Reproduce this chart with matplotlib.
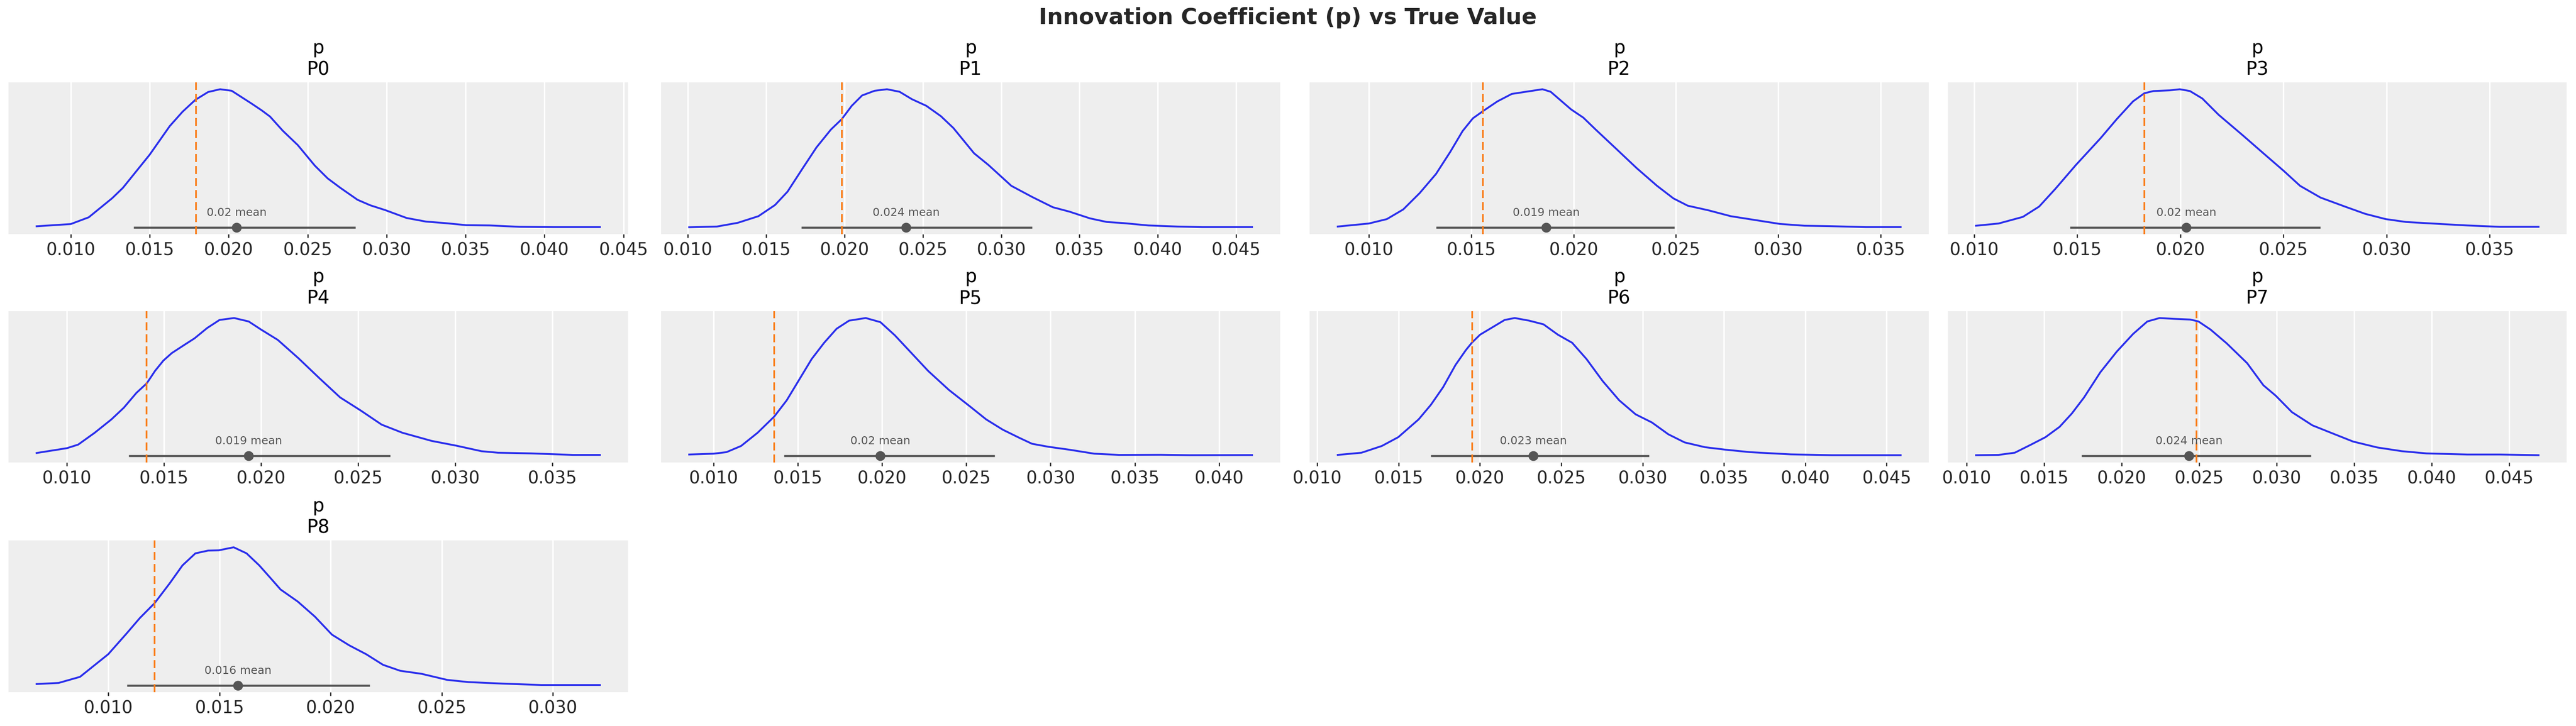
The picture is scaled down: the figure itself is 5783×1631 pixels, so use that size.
import matplotlib
matplotlib.use("Agg")
import matplotlib.pyplot as plt

# ---------------- data ----------------
panel_names = ["P0", "P1", "P2", "P3", "P4", "P5", "P6", "P7", "P8"]
var_name = "p"

kde_x_P0 = [0.00784, 0.0100, 0.01114, 0.01262, 0.0133, 0.0150, 0.01627, 0.01708, 0.01789, 0.0187, 0.01946, 0.02019, 0.0214, 0.02208, 0.02262, 0.02343, 0.02438, 0.02546, 0.02627, 0.02708, 0.02816, 0.02897, 0.02992, 0.03127, 0.03249, 0.0337, 0.03505, 0.03654, 0.03843, 0.04059, 0.04351]
kde_y_P0 = [0.007, 0.023, 0.072, 0.21, 0.285, 0.526, 0.733, 0.837, 0.923, 0.98, 1.0, 0.989, 0.90, 0.848, 0.802, 0.699, 0.595, 0.446, 0.354, 0.285, 0.199, 0.159, 0.124, 0.067, 0.041, 0.030, 0.015, 0.013, 0.003, 0.001, 0.001]

kde_x_P1 = [0.01008, 0.01185, 0.01318, 0.0145, 0.01556, 0.01636, 0.01728, 0.01821, 0.01913, 0.01982, 0.02046, 0.02112, 0.02192, 0.02271, 0.02351, 0.0243, 0.02522, 0.02615, 0.02695, 0.02827, 0.02919, 0.03065, 0.03197, 0.0333, 0.03436, 0.03568, 0.03675, 0.0378, 0.0394, 0.04125, 0.04284, 0.04602]
kde_y_P1 = [0.0, 0.005, 0.032, 0.08, 0.161, 0.258, 0.419, 0.579, 0.708, 0.783, 0.88, 0.955, 0.989, 1.0, 0.982, 0.928, 0.88, 0.805, 0.719, 0.536, 0.451, 0.30, 0.22, 0.145, 0.113, 0.064, 0.038, 0.030, 0.013, 0.005, 0.001, 0.001]

kde_x_P2 = [0.00848, 0.0100, 0.01088, 0.01168, 0.01248, 0.01328, 0.01398, 0.01458, 0.01508, 0.01558, 0.01628, 0.01698, 0.01768, 0.01848, 0.01888, 0.01938, 0.01988, 0.02048, 0.02108, 0.02208, 0.02308, 0.02408, 0.02488, 0.02558, 0.02658, 0.02768, 0.02888, 0.03008, 0.03128, 0.03248, 0.03428, 0.03598]
kde_y_P2 = [0.005, 0.027, 0.059, 0.129, 0.247, 0.386, 0.547, 0.697, 0.789, 0.842, 0.912, 0.966, 0.982, 1.0, 0.982, 0.918, 0.854, 0.794, 0.708, 0.569, 0.429, 0.30, 0.209, 0.156, 0.123, 0.080, 0.052, 0.024, 0.011, 0.008, 0.001, 0.001]

kde_x_P3 = [0.0101, 0.01119, 0.01237, 0.01316, 0.01395, 0.01494, 0.01613, 0.01692, 0.01771, 0.01826, 0.0187, 0.01949, 0.01998, 0.02047, 0.02107, 0.02186, 0.02304, 0.02403, 0.02502, 0.02581, 0.0268, 0.02798, 0.02897, 0.02996, 0.03095, 0.03292, 0.03391, 0.03549, 0.03737]
kde_y_P3 = [0.011, 0.027, 0.075, 0.15, 0.279, 0.451, 0.644, 0.783, 0.912, 0.971, 0.987, 0.992, 1.0, 0.987, 0.933, 0.815, 0.665, 0.536, 0.408, 0.30, 0.215, 0.15, 0.097, 0.059, 0.038, 0.021, 0.013, 0.003, 0.003]

kde_x_P4 = [0.00844, 0.0100, 0.01058, 0.01143, 0.01229, 0.01293, 0.01358, 0.01411, 0.01454, 0.01497, 0.0154, 0.01604, 0.01657, 0.01722, 0.01786, 0.01861, 0.01936, 0.0200, 0.02086, 0.02193, 0.0230, 0.02407, 0.02514, 0.02621, 0.02728, 0.02878, 0.03006, 0.03135, 0.0322, 0.03391, 0.03606, 0.03745]
kde_y_P4 = [0.019, 0.054, 0.08, 0.166, 0.263, 0.348, 0.456, 0.525, 0.616, 0.691, 0.745, 0.804, 0.852, 0.927, 0.986, 1.0, 0.975, 0.916, 0.841, 0.707, 0.563, 0.423, 0.327, 0.225, 0.166, 0.107, 0.072, 0.032, 0.021, 0.016, 0.005, 0.005]

kde_x_P5 = [0.00855, 0.0100, 0.01076, 0.01163, 0.01261, 0.0136, 0.01434, 0.01508, 0.01582, 0.01656, 0.0173, 0.01804, 0.01903, 0.0199, 0.02076, 0.02199, 0.02273, 0.02397, 0.0252, 0.02618, 0.02717, 0.02815, 0.0289, 0.02988, 0.03111, 0.03259, 0.03407, 0.03654, 0.03826, 0.04196]
kde_y_P5 = [0.008, 0.014, 0.025, 0.07, 0.166, 0.284, 0.402, 0.552, 0.702, 0.82, 0.922, 0.981, 1.0, 0.97, 0.874, 0.713, 0.616, 0.477, 0.359, 0.263, 0.188, 0.129, 0.086, 0.064, 0.043, 0.014, 0.005, 0.006, 0.003, 0.004]

kde_x_P6 = [0.01126, 0.01272, 0.01397, 0.01498, 0.01623, 0.01699, 0.01774, 0.0185, 0.01913, 0.0195, 0.02001, 0.02076, 0.02152, 0.02214, 0.02302, 0.02391, 0.02479, 0.02567, 0.02655, 0.02755, 0.02856, 0.02957, 0.03057, 0.03158, 0.03258, 0.03384, 0.0351, 0.03661, 0.03912, 0.04164, 0.04586]
kde_y_P6 = [0.005, 0.021, 0.07, 0.134, 0.263, 0.37, 0.498, 0.659, 0.766, 0.82, 0.879, 0.932, 0.986, 1.0, 0.981, 0.954, 0.879, 0.82, 0.702, 0.541, 0.402, 0.30, 0.241, 0.155, 0.096, 0.061, 0.043, 0.025, 0.009, 0.003, 0.003]

kde_x_P7 = [0.0106, 0.01205, 0.0131, 0.01415, 0.01508, 0.01599, 0.01678, 0.01757, 0.01862, 0.01968, 0.02073, 0.02165, 0.02244, 0.02336, 0.02442, 0.02495, 0.02573, 0.02678, 0.02809, 0.02914, 0.02993, 0.03098, 0.0323, 0.03361, 0.03493, 0.0365, 0.03808, 0.03966, 0.04229, 0.04439, 0.04689]
kde_y_P7 = [0.003, 0.005, 0.021, 0.08, 0.134, 0.209, 0.306, 0.423, 0.606, 0.756, 0.884, 0.975, 1.0, 0.994, 0.989, 0.975, 0.916, 0.815, 0.672, 0.511, 0.436, 0.316, 0.22, 0.161, 0.102, 0.059, 0.032, 0.016, 0.008, 0.008, 0.003]

kde_x_P8 = [0.00678, 0.00777, 0.00873, 0.0100, 0.01084, 0.01142, 0.01209, 0.01276, 0.01334, 0.01392, 0.01449, 0.01497, 0.01564, 0.01622, 0.01679, 0.01727, 0.01775, 0.01852, 0.01929, 0.02006, 0.02083, 0.0216, 0.02236, 0.02313, 0.02409, 0.02524, 0.0262, 0.02774, 0.02947, 0.03211]
kde_y_P8 = [0.009, 0.017, 0.061, 0.225, 0.378, 0.487, 0.596, 0.738, 0.869, 0.956, 0.976, 0.978, 1.0, 0.956, 0.869, 0.782, 0.694, 0.607, 0.498, 0.367, 0.29, 0.225, 0.148, 0.105, 0.083, 0.039, 0.023, 0.012, 0.002, 0.002]

kde_x = [kde_x_P0, kde_x_P1, kde_x_P2, kde_x_P3, kde_x_P4, kde_x_P5, kde_x_P6, kde_x_P7, kde_x_P8]
kde_y = [kde_y_P0, kde_y_P1, kde_y_P2, kde_y_P3, kde_y_P4, kde_y_P5, kde_y_P6, kde_y_P7, kde_y_P8]

hdi_low = [0.01397, 0.01723, 0.01328, 0.01466, 0.01319, 0.01419, 0.01699, 0.01742, 0.01084]
hdi_high = [0.02803, 0.03198, 0.02492, 0.02680, 0.02664, 0.02667, 0.03039, 0.03222, 0.02175]
mean_vals = [0.02051, 0.02393, 0.01866, 0.02030, 0.01936, 0.01989, 0.02328, 0.02433, 0.01583]
mean_labels = ["0.02", "0.024", "0.019", "0.02", "0.019", "0.02", "0.023", "0.024", "0.016"]
true_vals = [0.01792, 0.01984, 0.01558, 0.01826, 0.01409, 0.01360, 0.01952, 0.02483, 0.01209]

suptitle = "Innovation Coefficient (p) vs True Value"

# ---------------- style / layout ----------------
W, H = 5783, 1631
DPI = 300
BLUE = "#2a2eec"
ORANGE = "#fa7c17"
GREY = "#555555"
BG = "#eeeeee"

col_px = [(19, 1410), (1484, 2874), (2940, 4330), (4373, 5762)]
row_px = [(185, 526), (699, 1039), (1214, 1555)]

fig = plt.figure(figsize=(W / DPI, H / DPI), dpi=DPI)
fig.patch.set_facecolor("white")

for i, name in enumerate(panel_names):
    r, c = divmod(i, 4)
    x0, x1 = col_px[c]
    y0, y1 = row_px[r]
    ax = fig.add_axes([x0 / W, 1 - y1 / H, (x1 - x0) / W, (y1 - y0) / H])
    ax.set_facecolor(BG)
    for s in ax.spines.values():
        s.set_visible(False)
    ax.set_axisbelow(True)
    ax.grid(True, axis="x", color="white", linewidth=0.8)
    ax.grid(False, axis="y")

    ax.plot(kde_x[i], kde_y[i], color=BLUE, lw=1.0, zorder=3,
            solid_joinstyle="round")
    ax.plot([hdi_low[i], hdi_high[i]], [0, 0], color=GREY, lw=1.1,
            solid_capstyle="butt", zorder=4)
    ax.plot([mean_vals[i]], [0], "o", color=GREY, markersize=4.3, zorder=5)
    ax.text(mean_vals[i], 0.065, f"{mean_labels[i]} mean", color=GREY,
            fontsize=6, ha="center", va="bottom", zorder=6)
    ax.axvline(true_vals[i], color=ORANGE, lw=0.9, ls=(0, (4.8, 2.4)), zorder=4)

    ax.set_yticks([])
    ax.tick_params(axis="x", labelsize=9.3, length=1.9, width=0.65, pad=2.4,
                   colors="#262626", direction="out")
    ax.set_title(f"{var_name}\n{name}", fontsize=10, pad=4, color="black")

fig.suptitle(suptitle, fontsize=12.0, fontweight="bold", color="#262626",
             y=1 - 40 / H, va="center")

fig.savefig("out.png", dpi=DPI)
